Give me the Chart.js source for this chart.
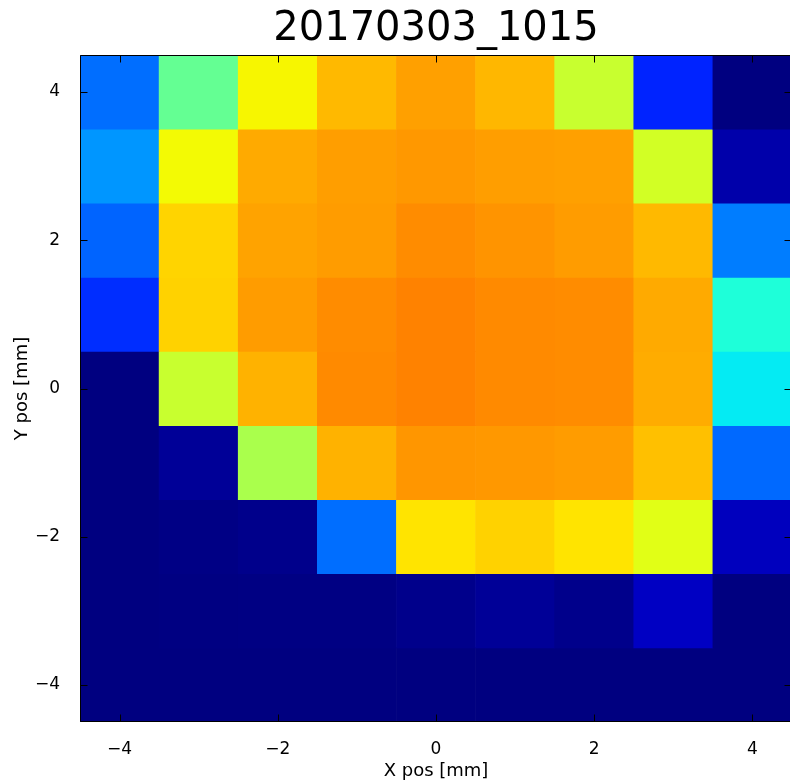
<!DOCTYPE html>
<html>
<head>
<meta charset="utf-8">
<script src="https://cdn.jsdelivr.net/npm/chart.js@4.4.1/dist/chart.umd.min.js"></script>
<style>
  html, body { margin: 0; padding: 0; background: #fff; overflow: hidden; }
  #wrap { width: 794px; height: 782px; position: relative; }
</style>
</head>
<body>
<div id="wrap"><canvas id="myChart"></canvas></div>
<script>
var xPos = [-4, -3, -2, -1, 0, 1, 2, 3, 4];
var yPos = [4, 3, 2, 1, 0, -1, -2, -3, -4];
var xTicks = [-4, -2, 0, 2, 4];
var yTicks = [-4, -2, 0, 2, 4];

// normalised intensity (0..1 on the jet scale), one array per row, left to right
var rowY4  = [0.233, 0.471, 0.650, 0.714, 0.741, 0.716, 0.593, 0.159, 0.000];
var rowY3  = [0.272, 0.645, 0.730, 0.743, 0.749, 0.743, 0.741, 0.605, 0.037];
var rowY2  = [0.223, 0.686, 0.737, 0.745, 0.762, 0.753, 0.745, 0.714, 0.248];
var rowY1  = [0.169, 0.688, 0.745, 0.762, 0.772, 0.764, 0.762, 0.730, 0.386];
var rowY0  = [0.000, 0.593, 0.722, 0.764, 0.772, 0.764, 0.762, 0.728, 0.355];
var rowYm1 = [0.000, 0.020, 0.557, 0.722, 0.751, 0.749, 0.745, 0.707, 0.228];
var rowYm2 = [0.000, 0.005, 0.010, 0.233, 0.669, 0.688, 0.669, 0.623, 0.054];
var rowYm3 = [0.000, 0.002, 0.003, 0.003, 0.010, 0.020, 0.010, 0.058, 0.000];
var rowYm4 = [0.000, 0.000, 0.000, 0.000, 0.000, 0.000, 0.000, 0.000, 0.000];
var rows = [rowY4, rowY3, rowY2, rowY1, rowY0, rowYm1, rowYm2, rowYm3, rowYm4];

// matplotlib "jet"
var jetR = [[0, 0], [0.35, 0], [0.66, 1], [0.89, 1], [1, 0.5]];
var jetG = [[0, 0], [0.125, 0], [0.375, 1], [0.64, 1], [0.91, 0], [1, 0]];
var jetB = [[0, 0.5], [0.11, 1], [0.34, 1], [0.65, 0], [1, 0]];

function interp(seg, v) {
  for (var i = 1; i < seg.length; i++) {
    if (v <= seg[i][0]) {
      var t = (v - seg[i - 1][0]) / (seg[i][0] - seg[i - 1][0]);
      return seg[i - 1][1] + t * (seg[i][1] - seg[i - 1][1]);
    }
  }
  return seg[seg.length - 1][1];
}

function jet(v) {
  v = Math.max(0, Math.min(1, v));
  return 'rgb(' + Math.round(255 * interp(jetR, v)) + ',' +
    Math.round(255 * interp(jetG, v)) + ',' + Math.round(255 * interp(jetB, v)) + ')';
}

function minusLabel(v) {
  return v < 0 ? '\u2212' + Math.abs(v) : String(v);
}

var FONT = 'DejaVu Sans';

// black frame with inward ticks on all four sides, like matplotlib classic
var frameTicks = {
  id: 'frameTicks',
  afterDraw: function(chart) {
    var ctx = chart.ctx, a = chart.chartArea;
    var xs = chart.scales.x, ys = chart.scales.y;
    var len = 7;
    var l = Math.round(a.left) + 0.5, r = Math.round(a.right) - 0.5;
    var t = Math.round(a.top) + 0.5, b = Math.round(a.bottom) - 0.5;
    ctx.save();
    ctx.strokeStyle = '#000';
    ctx.lineWidth = 1;
    ctx.beginPath();
    xTicks.forEach(function(v) {
      var px = Math.round(xs.getPixelForValue(v)) + 0.5;
      ctx.moveTo(px, b); ctx.lineTo(px, b - len);
      ctx.moveTo(px, t); ctx.lineTo(px, t + len);
    });
    yTicks.forEach(function(v) {
      var py = Math.round(ys.getPixelForValue(v)) + 0.5;
      ctx.moveTo(l, py); ctx.lineTo(l + len, py);
      ctx.moveTo(r, py); ctx.lineTo(r - len, py);
    });
    ctx.moveTo(l, t); ctx.lineTo(r, t); ctx.lineTo(r, b); ctx.lineTo(l, b); ctx.closePath();
    ctx.stroke();
    ctx.restore();
  }
};

var datasets = rows.map(function(vals, r) {
  return {
    data: xPos.map(function(x) {
      return { x: x, y: [yPos[r] - 0.5, yPos[r] + 0.5] };
    }),
    backgroundColor: vals.map(jet),
    borderWidth: 0,
    barPercentage: 1,
    categoryPercentage: 1,
    grouped: false
  };
});

new Chart('myChart', {
  type: 'bar',
  data: { datasets: datasets },
  plugins: [frameTicks],
  options: {
    animation: false,
    responsive: true,
    maintainAspectRatio: false,
    layout: { padding: { left: 0, right: 2, top: 0, bottom: 0 } },
    plugins: {
      legend: { display: false },
      tooltip: { enabled: false },
      title: {
        display: true,
        text: '20170303_1015',
        color: '#000',
        fullSize: false,
        font: { family: FONT, size: 40, weight: 'normal' },
        padding: { top: 6, bottom: 1 }
      }
    },
    scales: {
      x: {
        type: 'linear',
        min: -4.5,
        max: 4.5,
        offset: false,
        grid: { display: false },
        border: { display: false },
        afterBuildTicks: function(axis) {
          axis.ticks = xTicks.map(function(v) { return { value: v }; });
        },
        afterFit: function(scale) { scale.height = 60; },
        ticks: {
          color: '#000',
          padding: 9,
          maxRotation: 0,
          font: { family: FONT, size: 17 },
          callback: minusLabel
        },
        title: {
          display: true,
          text: 'X pos [mm]',
          color: '#000',
          font: { family: FONT, size: 18 },
          padding: { top: 0, bottom: 0 }
        }
      },
      y: {
        type: 'linear',
        min: -4.5,
        max: 4.5,
        grid: { display: false },
        border: { display: false },
        afterBuildTicks: function(axis) {
          axis.ticks = yTicks.map(function(v) { return { value: v }; });
        },
        afterFit: function(scale) { scale.width = 80; },
        ticks: {
          color: '#000',
          padding: 12,
          font: { family: FONT, size: 17 },
          callback: minusLabel
        },
        title: {
          display: true,
          text: 'Y pos [mm]',
          color: '#000',
          font: { family: FONT, size: 18 },
          padding: { top: 12, bottom: 0 }
        }
      }
    }
  }
});
</script>
</body>
</html>
